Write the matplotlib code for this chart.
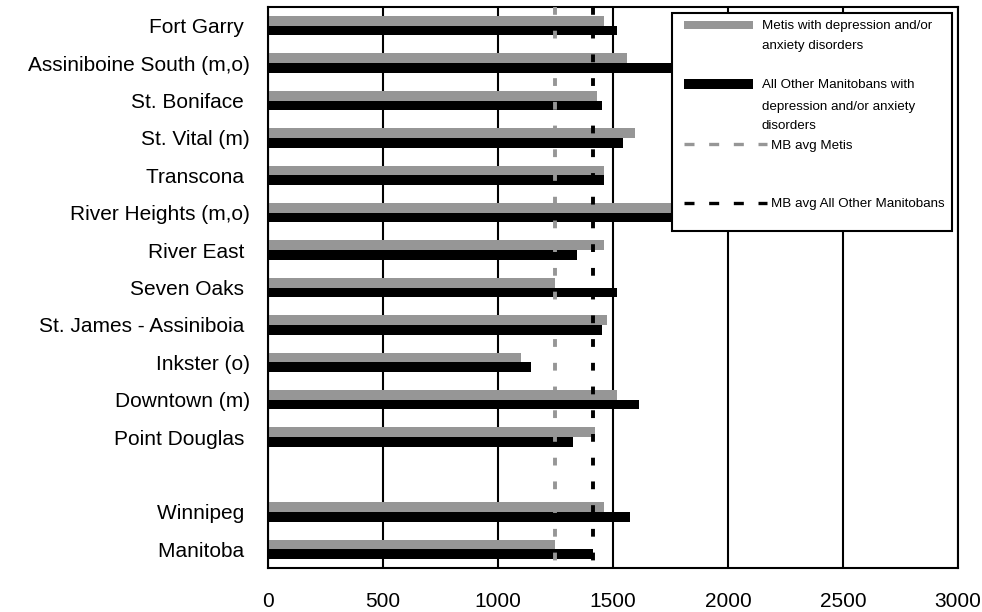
import matplotlib
matplotlib.use("Agg")
import matplotlib.pyplot as plt
from matplotlib.patches import Rectangle
from matplotlib.lines import Line2D

plt.rcParams["font.family"] = ["Liberation Sans", "DejaVu Sans"]

# labels without a bracketed note carry a trailing space in the original
categories = ["Fort Garry ", "Assiniboine South (m,o)", "St. Boniface ", "St. Vital (m)",
              "Transcona ", "River Heights (m,o)", "River East ", "Seven Oaks ",
              "St. James - Assiniboia ", "Inkster (o)", "Downtown (m)", "Point Douglas ",
              "", "Winnipeg ", "Manitoba "]
metis = [1463, 1559, 1429, 1594, 1459, 1790, 1463, 1247, 1472, 1099, 1516, 1420,
         None, 1459, 1247]
others = [1516, 1820, 1450, 1542, 1463, 1760, 1342, 1516, 1450, 1142, 1611, 1325,
          None, 1576, 1411]
avg_metis = 1247
avg_others = 1411

GRAY = "#969696"
W, H = 982, 612

fig = plt.figure(figsize=(W / 100, H / 100), dpi=100)
ax = fig.add_axes([268 / W, 44 / H, 690 / W, 561 / H])

ys = list(range(len(categories)))
bh = 0.26
for y, m, o in zip(ys, metis, others):
    if m is None:
        continue
    ax.barh(y - bh / 2, m, height=bh, color=GRAY, zorder=2)
    ax.barh(y + bh / 2, o, height=bh, color="black", zorder=2)

top, bottom = -0.5, len(categories) - 0.5
ax.plot([avg_metis, avg_metis], [top, bottom], color=GRAY, lw=2.8,
        dashes=(2.0, 4.1), zorder=3)
ax.plot([avg_others, avg_others], [top, bottom], color="black", lw=2.8,
        dashes=(2.0, 4.1), zorder=3)

ax.set_xlim(0, 3000)
ax.set_ylim(bottom, top)
ax.set_xticks(range(0, 3001, 500))
ax.set_yticks(ys)
ax.set_yticklabels(categories)
ax.tick_params(axis="x", length=0, pad=17, labelsize=15)
ax.tick_params(axis="y", length=0, pad=13, labelsize=15)
ax.set_axisbelow(True)
ax.grid(axis="x", color="black", lw=1.5)
ax.grid(axis="y", visible=False)
for s in ax.spines.values():
    s.set_linewidth(1.5)
    s.set_color("black")


# legend box, laid out in pixels from the top-left corner
def fx(x):
    return x / W


def fy(y):
    return 1 - y / H


fig.add_artist(Rectangle((fx(672), fy(231)), fx(952) - fx(672), fy(13) - fy(231),
                         transform=fig.transFigure, facecolor="white",
                         edgecolor="black", lw=1.5, zorder=5))
fig.add_artist(Rectangle((fx(684), fy(29)), fx(753) - fx(684), fy(21) - fy(29),
                         transform=fig.transFigure, color=GRAY, lw=0, zorder=6))
fig.add_artist(Rectangle((fx(684), fy(89)), fx(753) - fx(684), fy(79) - fy(89),
                         transform=fig.transFigure, color="black", lw=0, zorder=6))
fig.add_artist(Line2D([fx(684), fx(767)], [fy(144), fy(144)], transform=fig.transFigure,
                      color=GRAY, lw=2.4, dashes=(3.0, 4.4), zorder=6))
fig.add_artist(Line2D([fx(684), fx(767)], [fy(203), fy(203)], transform=fig.transFigure,
                      color="black", lw=2.4, dashes=(3.0, 4.4), zorder=6))

leg_texts = [
    (762, 24, "Metis with depression and/or"),
    (762, 45, "anxiety disorders"),
    (762, 84, "All Other Manitobans with"),
    (762, 105, "depression and/or anxiety"),
    (762, 125, "disorders"),
    (771, 144, "MB avg Metis"),
    (771, 203, "MB avg All Other Manitobans"),
]
for x, y, t in leg_texts:
    fig.text(fx(x), fy(y), t, fontsize=9.6, va="center_baseline", ha="left", zorder=7)

fig.savefig("out.png", dpi=100)
